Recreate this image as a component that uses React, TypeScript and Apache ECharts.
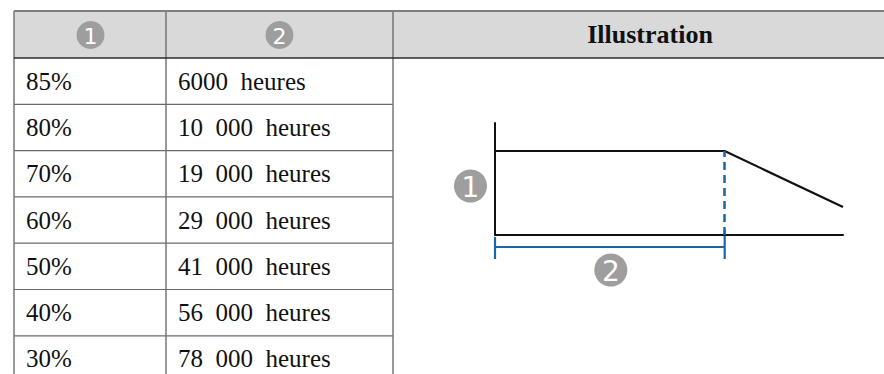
import React, { useEffect, useRef } from "react";
import * as echarts from "echarts";

// ---- data ----
const brightnessLevels = [85, 80, 70, 60, 50, 40, 30];
const lifetimeHours = [6000, 10000, 19000, 29000, 41000, 56000, 78000];
const headerTitle = "Illustration";
const unitLabel = "heures";
// illustration curve (schematic): x in % of axis length, y in % of height
const curveX = [0, 66, 100];
const curveY = [75, 75, 25];
const kneeX = 66;

const NB = "\u00a0";
const GAP = NB + NB;
function fmtHours(n: number): string {
  if (n >= 10000) {
    return `${Math.floor(n / 1000)}${GAP}${String(n % 1000).padStart(3, "0")}${GAP}${unitLabel}`;
  }
  return `${n}${GAP}${unitLabel}`;
}

const SERIF = "Liberation Serif";
const SANS = "DejaVu Sans";

export default function App() {
  const ref = useRef<HTMLDivElement>(null);
  useEffect(() => {
    document.body.style.margin = "0";
    if (!ref.current) return;
    const chart = echarts.init(ref.current, null, { renderer: "svg" });

    const tableLeft = 14;
    const col1 = 166;
    const col2 = 393;
    const right = 884;
    const top = 11;
    const headBottom = 58;
    const rowH = 46.3;

    const g: any[] = [];
    g.push({
      type: "rect",
      shape: { x: tableLeft, y: top, width: right - tableLeft, height: headBottom - top },
      style: { fill: "#d9d9d9" },
      silent: true,
    });
    brightnessLevels.forEach((_, i) => {
      const y = headBottom + (i + 1) * rowH;
      if (i < brightnessLevels.length - 1) {
        g.push({
          type: "line",
          shape: { x1: tableLeft, y1: y, x2: col2, y2: y },
          style: { stroke: "#6a6a6a", lineWidth: 1.2 },
        });
      }
    });
    [tableLeft, col1, col2].forEach((x) => {
      g.push({
        type: "line",
        shape: { x1: x, y1: top, x2: x, y2: 374 },
        style: { stroke: "#6e6e6e", lineWidth: 1.4 },
      });
    });
    g.push({
      type: "line",
      shape: { x1: tableLeft, y1: top, x2: right, y2: top },
      style: { stroke: "#808080", lineWidth: 2 },
    });
    g.push({
      type: "line",
      shape: { x1: tableLeft, y1: headBottom, x2: right, y2: headBottom },
      style: { stroke: "#2a2a2a", lineWidth: 1.5 },
    });
    const badge = (cx: number, cy: number, r: number, label: string, fs: number, arr: any[]) => {
      arr.push({
        type: "circle",
        shape: { cx, cy, r },
        style: { fill: "#9e9e9e" },
      });
      arr.push({
        type: "text",
        style: {
          text: label,
          x: cx,
          y: cy + 1,
          fill: "#ffffff",
          fontSize: fs,
          fontFamily: SANS,
          align: "center",
          verticalAlign: "middle",
        },
      });
    };
    badge((tableLeft + col1) / 2 + 0.5, 35, 14, "1", 22, g);
    badge((col1 + col2) / 2, 35, 14, "2", 22, g);
    g.push({
      type: "text",
      style: {
        text: headerTitle,
        x: 650,
        y: 34,
        fill: "#111",
        fontSize: 26,
        fontWeight: "bold",
        fontFamily: SERIF,
        align: "center",
        verticalAlign: "middle",
      },
    });
    brightnessLevels.forEach((v, i) => {
      const cy = headBottom + (i + 0.5) * rowH;
      g.push({
        type: "text",
        style: {
          text: `${v}%`,
          x: 26,
          y: cy,
          fill: "#111",
          fontSize: 25,
          fontFamily: SERIF,
          verticalAlign: "middle",
        },
      });
      g.push({
        type: "text",
        style: {
          text: fmtHours(lifetimeHours[i]),
          x: 178,
          y: cy,
          fill: "#111",
          fontSize: 25,
          fontFamily: SERIF,
          verticalAlign: "middle",
        },
      });
    });

    const option: any = {
      animation: false,
      grid: { left: 495, top: 123, width: 348, height: 112 },
      xAxis: {
        type: "value",
        min: 0,
        max: 100,
        axisLine: { show: true, onZero: false, lineStyle: { color: "#111", width: 2 } },
        axisTick: { show: false },
        axisLabel: { show: false },
        splitLine: { show: false },
      },
      yAxis: {
        type: "value",
        min: 0,
        max: 100,
        axisLine: { show: true, lineStyle: { color: "#111", width: 2 } },
        axisTick: { show: false },
        axisLabel: { show: false },
        splitLine: { show: false },
      },
      series: [
        {
          type: "line",
          data: curveX.map((x, i) => [x, curveY[i]]),
          symbol: "none",
          lineStyle: { color: "#111", width: 2.2 },
          z: 3,
          markLine: {
            silent: true,
            symbol: "none",
            label: { show: false },
            lineStyle: { color: "#1a64a8", width: 2.5, type: [8, 5] },
            data: [[{ coord: [kneeX, 0] }, { coord: [kneeX, curveY[1]] }]],
          },
        },
      ],
      graphic: g,
    };
    chart.setOption(option);

    const p0 = chart.convertToPixel({ gridIndex: 0 }, [0, 0]) as number[];
    const pk = chart.convertToPixel({ gridIndex: 0 }, [kneeX, 0]) as number[];
    const pTop = chart.convertToPixel({ gridIndex: 0 }, [0, 100]) as number[];
    const blue = "#1a64a8";
    const bracketY = p0[1] + 12;
    const extra: any[] = [
      {
        type: "line",
        shape: { x1: p0[0], y1: bracketY, x2: pk[0], y2: bracketY },
        style: { stroke: blue, lineWidth: 2.2 },
      },
      {
        type: "line",
        shape: { x1: p0[0], y1: p0[1] + 2, x2: p0[0], y2: p0[1] + 24 },
        style: { stroke: blue, lineWidth: 2.2 },
      },
      {
        type: "line",
        shape: { x1: pk[0], y1: p0[1] - 5, x2: pk[0], y2: p0[1] + 24 },
        style: { stroke: blue, lineWidth: 2.2 },
      },
    ];
    badge(p0[0] - 24.5, (pTop[1] + p0[1]) / 2 + 7, 16.5, "1", 28, extra);
    badge((p0[0] + pk[0]) / 2 + 1, p0[1] + 35, 16.5, "2", 28, extra);
    chart.setOption({ graphic: [...g, ...extra] });

    return () => chart.dispose();
  }, []);
  return <div ref={ref} style={{ width: 884, height: 374 }} />;
}
